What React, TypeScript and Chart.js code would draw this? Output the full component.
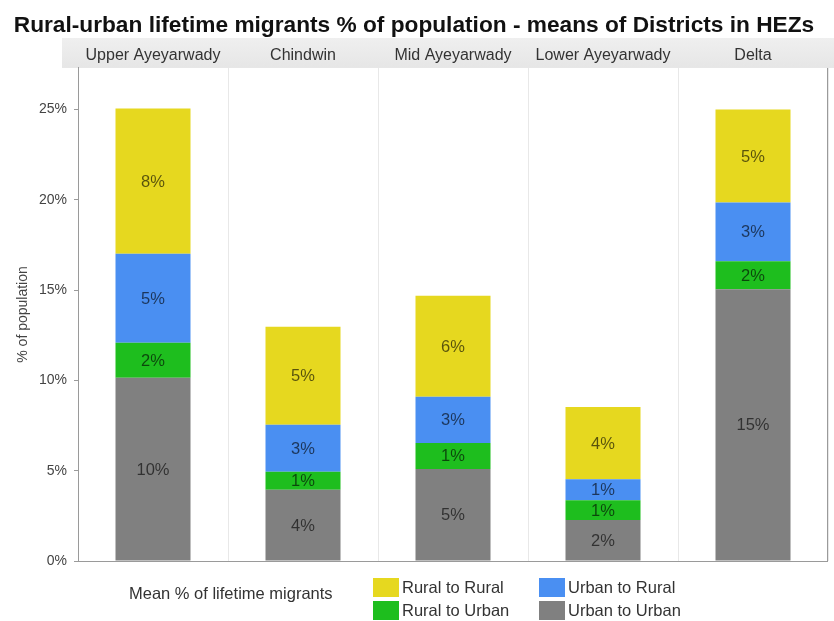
import React, { useEffect, useRef } from 'react';
import { Chart, registerables } from 'chart.js';
Chart.register(...registerables);

const TITLE = 'Rural-urban lifetime migrants % of population - means of Districts in HEZs';
const categories = ['Upper Ayeyarwady', 'Chindwin', 'Mid Ayeyarwady', 'Lower Ayeyarwady', 'Delta'];
const urbanToUrban = [10.14, 3.94, 5.1, 2.27, 15.05];
const ruralToUrban = [1.94, 1.0, 1.44, 1.1, 1.55];
const urbanToRural = [4.93, 2.6, 2.55, 1.16, 3.25];
const ruralToRural = [8.04, 5.43, 5.6, 4.0, 5.15];
const yTicks = [0, 5, 10, 15, 20, 25];
const legendTitle = 'Mean % of lifetime migrants';
const yTitle = '% of population';

const FONT = '"Liberation Sans", Arial, Helvetica, sans-serif';
const COLORS = {
  yellow: '#E6D81F',
  blue: '#4A8FF2',
  green: '#1EBE1E',
  grey: '#808080',
};

const bgPlugin = {
  id: 'bgPlugin',
  beforeDraw(chart: any) {
    const { ctx, chartArea } = chart;
    ctx.save();
    ctx.fillStyle = '#ffffff';
    ctx.fillRect(0, 0, chart.width, chart.height);
    const g = ctx.createLinearGradient(0, 38, 0, chartArea.top);
    g.addColorStop(0, '#efefef');
    g.addColorStop(1, '#e6e6e6');
    ctx.fillStyle = g;
    ctx.fillRect(62, 38, chart.width - 62, chartArea.top - 38);
    ctx.restore();
  },
};

const bordersPlugin = {
  id: 'bordersPlugin',
  afterDatasetsDraw(chart: any) {
    const { ctx, chartArea } = chart;
    ctx.save();
    ctx.strokeStyle = '#9a9a9a';
    ctx.lineWidth = 1;
    ctx.beginPath();
    ctx.moveTo(chartArea.left, chartArea.bottom + 0.5);
    ctx.lineTo(chartArea.right, chartArea.bottom + 0.5);
    ctx.moveTo(chartArea.right - 0.5, chartArea.top);
    ctx.lineTo(chartArea.right - 0.5, chartArea.bottom);
    ctx.stroke();
    ctx.restore();
  },
};

const valueLabels = {
  id: 'valueLabels',
  afterDatasetsDraw(chart: any) {
    const { ctx } = chart;
    ctx.save();
    ctx.font = `16.5px ${FONT}`;
    ctx.textAlign = 'center';
    ctx.textBaseline = 'middle';
    ctx.fillStyle = 'rgba(0,0,0,0.62)';
    chart.data.datasets.forEach((ds: any, di: number) => {
      const meta = chart.getDatasetMeta(di);
      meta.data.forEach((el: any, i: number) => {
        const { x, y, base } = el.getProps(['x', 'y', 'base'], true);
        const v = ds.data[i];
        ctx.fillText(Math.round(v) + '%', x, (y + base) / 2 + 1);
      });
    });
    ctx.restore();
  },
};

const customLegend = {
  id: 'customLegend',
  afterDraw(chart: any) {
    const { ctx } = chart;
    const ds = chart.data.datasets;
    // order in legend grid: [RR, UR] / [RU, UU]
    const order = [3, 2, 1, 0];
    const colX = [373, 539];
    const rowY = [578, 601];
    ctx.save();
    ctx.font = `16.5px ${FONT}`;
    ctx.textBaseline = 'middle';
    ctx.fillStyle = '#333';
    ctx.textAlign = 'left';
    ctx.fillText(legendTitle, 129, 594);
    order.forEach((di, k) => {
      const c = k % 2;
      const r = Math.floor(k / 2);
      const x = colX[c];
      const y = rowY[r];
      ctx.fillStyle = ds[di].backgroundColor;
      ctx.fillRect(x, y, 26, 19);
      ctx.fillStyle = '#333';
      ctx.fillText(ds[di].label, x + 29, y + 10);
    });
    ctx.restore();
  },
};

function App() {
  const ref = useRef<HTMLCanvasElement | null>(null);
  useEffect(() => {
    if (!ref.current) return;
    Chart.defaults.font.family = FONT;
    const chart = new Chart(ref.current, {
      type: 'bar',
      data: {
        labels: categories,
        datasets: [
          { label: 'Urban to Urban', data: urbanToUrban, backgroundColor: COLORS.grey },
          { label: 'Rural to Urban', data: ruralToUrban, backgroundColor: COLORS.green },
          { label: 'Urban to Rural', data: urbanToRural, backgroundColor: COLORS.blue },
          { label: 'Rural to Rural', data: ruralToRural, backgroundColor: COLORS.yellow },
        ],
      },
      options: {
        responsive: false,
        devicePixelRatio: 1,
        animation: false,
        datasets: { bar: { categoryPercentage: 1, barPercentage: 0.5 } },
        layout: { padding: { top: 0, left: 0, right: 6, bottom: 60 } },
        plugins: {
          legend: { display: false },
          tooltip: { enabled: false },
          title: {
            display: true,
            text: TITLE,
            color: '#111',
            font: { size: 22.7, weight: 'bold', family: FONT, lineHeight: 1.1 },
            padding: { top: 13, bottom: 0 },
          },
        },
        scales: {
          x: {
            stacked: true,
            position: 'top',
            grid: { offset: true, color: '#e8e8e8', drawTicks: false },
            border: { display: false },
            ticks: { color: '#333', font: { size: 16 }, padding: 3, maxRotation: 0 },
            afterFit: (s: any) => { s.height = 30; },
          },
          y: {
            stacked: true,
            min: 0,
            max: 27.3,
            grid: { drawOnChartArea: false, drawTicks: true, tickLength: 4, color: '#9a9a9a' },
            border: { display: true, color: '#9a9a9a' },
            ticks: {
              stepSize: 5,
              color: '#444',
              font: { size: 14 },
              padding: 7,
              callback: (v: any) => v + '%',
            },
            afterBuildTicks: (s: any) => {
              s.ticks = yTicks.map((v) => ({ value: v }));
            },
            title: {
              display: true,
              text: yTitle,
              color: '#444',
              font: { size: 14 },
              padding: { top: 15, bottom: 0 },
            },
            afterFit: (s: any) => { s.width = 78; },
          },
        },
      },
      plugins: [bgPlugin, bordersPlugin, valueLabels, customLegend],
    } as any);
    return () => chart.destroy();
  }, []);
  return (
    <div style={{ position: 'absolute', left: 0, top: 0, width: 834, height: 621 }}>
      <canvas ref={ref} width={834} height={621} style={{ width: 834, height: 621 }} />
    </div>
  );
}

export default App;
